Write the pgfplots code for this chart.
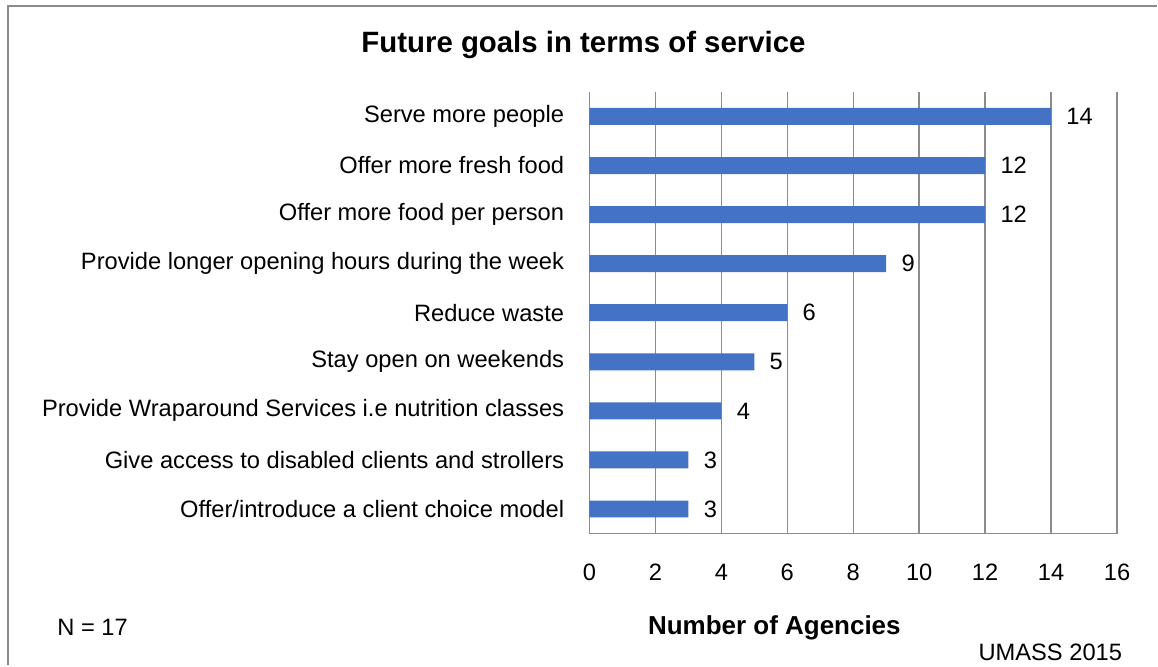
\documentclass[border=0pt]{standalone}
\usepackage{fontspec}
\setmainfont{Liberation Sans}
\usepackage{pgfplots}
\pgfplotsset{compat=1.18}
\definecolor{barblue}{HTML}{4472C4}
\definecolor{gridgray}{HTML}{8C8C8C}
\begin{document}
\begin{tikzpicture}[x=1pt,y=1pt]
\fontsize{11.85}{14}\selectfont
\path (0,0) rectangle (579,333);
\draw[gridgray, line width=1pt] (4,0) -- (4,330) -- (579,330);
\begin{axis}[
  at={(295pt,66pt)}, anchor=south west,
  scale only axis, width=264pt, height=221pt,
  xbar, bar width=8.5pt,
  xmin=0, xmax=16, xtick={0,2,...,16},
  ymin=-0.5, ymax=8.5, ytick={0,...,8},
  yticklabels={Offer/introduce a client choice model,
    Give access to disabled clients and strollers,
    Provide Wraparound Services i.e nutrition classes,
    Stay open on weekends, Reduce waste,
    Provide longer opening hours during the week,
    Offer more food per person, Offer more fresh food, Serve more people},
  axis lines*=left,
  axis line style={gridgray, line width=0.75pt},
  xmajorgrids, grid style={gridgray, line width=0.75pt},
  major tick length=0pt,
  /pgf/number format/assume math mode=true,
  tick label style={font=\fontsize{11.85}{14}\selectfont, text=black},
  yticklabel style={inner sep=0pt, anchor=east, xshift=-12.5pt},
  xticklabel style={inner sep=0pt, anchor=center, yshift=-19.5pt},
  nodes near coords,
  every node near coord/.append style={font=\fontsize{11.85}{14}\selectfont, text=black, inner sep=0pt, anchor=west, xshift=7.5pt},
]
\addplot[fill=barblue, draw=none] coordinates {
  (3,0) (3,1) (4,2) (5,3) (6,4) (9,5) (12,6) (12,7) (14,8)};
\end{axis}
\node[font=\bfseries\fontsize{14.7}{17}\selectfont] at (292,310.5) {Future goals in terms of service};
\node[font=\bfseries\fontsize{13}{16}\selectfont] at (387.5,19) {Number of Agencies};
\node[anchor=west, inner sep=0pt] at (28.5,19) {N = 17};
\node[anchor=west, inner sep=0pt] at (489.5,6.5) {UMASS 2015};
\end{tikzpicture}
\end{document}
